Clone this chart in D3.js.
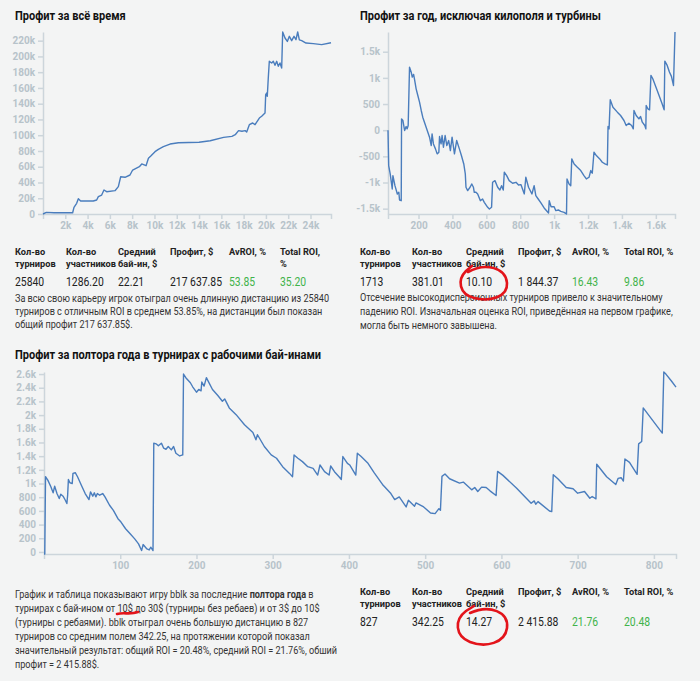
<!DOCTYPE html>
<html>
<head>
  <meta charset="utf-8">
  <title>Профит bblk</title>
  <script src="https://cdn.jsdelivr.net/npm/d3@7"></script>
  <style>
  * { margin: 0; padding: 0; }
  body { background: #f3f4f4; }
  svg { display: block; font-family: Roboto, "Noto Sans", sans-serif; }
  .axis path, .axis line { stroke: #ccd5db; stroke-width: 1.5; }
  .axis text { fill: #b7c3ca; font-size: 10px; font-weight: bold; font-family: Roboto, sans-serif; }
  .title { font-size: 12px; font-weight: bold; fill: #111; }
  .head { font-size: 9.8px; font-weight: bold; fill: #222; }
  .val { font-size: 12px; fill: #222; }
  .val.green { fill: #3fb34a; }
  .body { font-size: 10px; fill: #333; white-space: pre; }
  </style>
</head>
<body>
<script>
  var w = 700, h = 681;

  // profit over the whole career: [tournament #, profit $]
  var allTimeProfit = [
    [0, 0], [300, 2000], [1000, 1500], [1525, 1600], [2660, 1600], [2780, 8500], [3020, 13600],
    [3170, 19400], [3380, 16500], [4510, 16500], [4815, 17800], [4965, 22000], [5265, 24100],
    [5470, 30500], [5710, 28300], [6460, 29600], [6760, 34700], [6970, 47300], [7360, 46600],
    [7805, 49500], [8045, 55800], [8345, 58000], [8645, 60000], [8860, 63500], [9245, 61300],
    [9460, 70700], [9670, 73600], [10050, 79100], [10350, 82100], [10800, 85400], [11400, 88800],
    [12150, 90500], [14000, 91000], [15000, 93000], [16200, 97300], [16950, 98500], [17250, 100600],
    [17545, 105800], [17845, 105000], [18141, 105800], [18276, 104100], [18514, 113400],
    [18814, 115500], [19025, 113400], [19412, 121800], [19620, 124000], [19920, 128200],
    [19980, 151400], [20070, 153600], [20123, 149400], [20213, 172600], [20305, 193800],
    [20518, 191700], [20663, 193800], [20815, 188700], [20966, 193800], [21113, 187500],
    [21264, 191700], [21415, 185300], [21505, 231000], [21713, 223400], [21922, 219000],
    [22102, 225500], [22311, 220000], [22521, 225500], [22700, 221200], [22852, 231000],
    [23000, 221000], [23211, 220000], [23597, 217000], [24253, 216200], [25003, 215000],
    [25840, 217400]
  ];

  // profit for the year without kilofields and turbos
  var yearProfit = [
    [20, 0], [24, -677], [33, -836], [45, -1123], [49, -868], [55, -964], [61, -1060], [75, -1219],
    [84, -1187], [88, -1334], [98, -1347], [100, 217], [108, 185], [118, -6], [127, 70], [133, 25],
    [139, 89], [147, 1206], [157, 1110], [163, 1015], [171, 1066], [176, 983], [186, 791], [196, 664],
    [206, 536], [216, 377], [225, 249], [235, 153], [245, 57], [255, -38], [265, -134], [275, -294],
    [280, -70], [288, -262], [300, -357], [310, -453], [320, -421], [324, -121], [333, -262],
    [339, -102], [347, -325], [357, -102], [367, -294], [378, -198], [388, -389], [398, -134],
    [412, -453], [425, -198], [441, -357], [453, -485], [467, -645], [476, -836], [480, -1091],
    [490, -1155], [504, -1091], [514, -1028], [524, -1091], [529, -1187], [539, -1187], [549, -1219],
    [565, -1347], [578, -1315], [588, -1379], [608, -1474], [618, -1506], [631, -1474], [637, -996],
    [651, -964], [667, -1091], [680, -1143], [690, -1060], [700, -1143], [706, -804], [720, -868],
    [735, -964], [755, -1015], [775, -996], [790, -1047], [804, -1040], [824, -1219], [833, -900],
    [849, -1091], [869, -1219], [882, -1060], [892, -1251], [906, -1315], [922, -1391], [941, -1487],
    [967, -1583], [971, -1347], [982, -1462], [1000, -1462], [1010, -1538], [1025, -1525],
    [1039, -1551], [1059, -1570], [1073, -1602], [1076, -932], [1088, -1028], [1098, -1060],
    [1104, -549], [1118, -645], [1137, -709], [1157, -772], [1176, -868], [1190, -932], [1206, -900],
    [1216, -772], [1225, -823], [1235, -421], [1249, -485], [1269, -549], [1284, -613], [1300, -645],
    [1314, -664], [1318, 70], [1324, 25], [1331, 581], [1347, 440], [1373, 345], [1392, 281],
    [1412, 185], [1425, 89], [1441, 134], [1457, 89], [1467, 25], [1471, 377], [1484, 281],
    [1500, 217], [1510, 262], [1520, 153], [1535, 89], [1541, 25], [1543, 472], [1553, 409],
    [1563, 389], [1571, 1047], [1582, 983], [1608, 760], [1637, 504], [1649, 389], [1653, 1321],
    [1667, 1238], [1680, 1111], [1692, 1028], [1704, 855], [1713, 1877]
  ];

  // profit for 1.5 years in working buy-ins
  var workingProfit = [
    [0, -30], [1, -30], [2, 1099], [5, 1050], [9, 952], [12, 864], [14, 962], [17, 854], [20, 780],
    [22, 844], [25, 815], [28, 756], [30, 707], [31, 829], [32, 1060], [34, 1011], [37, 1001],
    [38, 1148], [41, 1158], [44, 1099], [49, 976], [54, 854], [59, 765], [61, 878], [64, 815],
    [66, 864], [68, 805], [70, 854], [73, 829], [77, 854], [80, 805], [86, 682], [91, 608],
    [97, 486], [101, 437], [107, 339], [113, 265], [119, 191], [124, 118], [128, 20], [130, 108],
    [135, 44], [138, 29], [140, 69], [143, 20], [144, 1590], [147, 1580], [150, 1551], [154, 1590],
    [157, 1516], [160, 1501], [163, 1541], [167, 1492], [170, 1541], [173, 1443], [178, 1403],
    [182, 1418], [183, 2600], [186, 2547], [192, 2473], [195, 2414], [200, 2335], [203, 2375],
    [206, 2355], [207, 2483], [210, 2424], [213, 2547], [216, 2483], [221, 2375], [228, 2287],
    [234, 2203], [237, 2237], [243, 2105], [252, 2007], [263, 1860], [274, 1747], [278, 1639],
    [280, 1713], [289, 1541], [298, 1418], [305, 1369], [313, 1246], [322, 1148], [326, 1099],
    [328, 1418], [333, 1369], [339, 1320], [346, 1246], [353, 1222], [359, 1124], [362, 1271],
    [368, 1173], [374, 1124], [376, 1256], [381, 1173], [387, 1099], [390, 1060], [392, 1394],
    [398, 1295], [401, 1271], [409, 1124], [411, 1443], [416, 1394], [425, 1295], [433, 1158],
    [444, 987], [455, 854], [460, 765], [466, 805], [475, 658], [478, 756], [486, 668], [488, 717],
    [498, 658], [507, 570], [513, 560], [518, 633], [520, 608], [522, 1104], [526, 1139],
    [532, 1070], [545, 1006], [550, 1021], [561, 908], [565, 942], [569, 883], [574, 947],
    [580, 942], [585, 893], [593, 825], [595, 1178], [602, 1119], [620, 932], [639, 712],
    [643, 746], [645, 697], [648, 736], [663, 599], [666, 589], [668, 1129], [674, 1070],
    [685, 942], [694, 923], [700, 859], [709, 883], [716, 785], [719, 810], [724, 776], [725, 1281],
    [738, 1099], [750, 986], [753, 1075], [757, 1085], [760, 1036], [762, 1359], [768, 1310],
    [778, 1134], [780, 1580], [784, 1614], [786, 2105], [811, 1737], [813, 2630], [816, 2596],
    [823, 2498], [829, 2409]
  ];

  var allTimeXTicks = [2000, 4000, 6000, 8000, 10000, 12000, 14000, 16000, 18000, 20000, 22000, 24000];
  var allTimeYTicks = [0, 20000, 40000, 60000, 80000, 100000, 120000, 140000, 160000, 180000, 200000, 220000];
  var yearXTicks = [200, 400, 600, 800, 1000, 1200, 1400, 1600];
  var yearYTicks = [-1500, -1000, -500, 0, 500, 1000, 1500];
  var workingXTicks = [100, 200, 300, 400, 500, 600, 700, 800];
  var workingYTicks = [0, 200, 400, 600, 800, 1000, 1200, 1400, 1600, 1800, 2000, 2200, 2400, 2600];

  // tables
  var headers = [["Кол-во", "турниров"], ["Кол-во", "участников"], ["Средний", "бай-ин, $"],
                 ["Профит, $"], ["AvROI, %"], ["Total ROI, %"]];
  var headersNarrow = [["Кол-во", "турниров"], ["Кол-во", "участников"], ["Средний", "бай-ин, $"],
                       ["Профит, $"], ["AvROI, %"], ["Total ROI,", "%"]];
  var allTimeStats = ["25840", "1286.20", "22.21", "217 637.85", "53.85", "35.20"];
  var yearStats = ["1713", "381.01", "10.10", "1 844.37", "16.43", "9.86"];
  var workingStats = ["827", "342.25", "14.27", "2 415.88", "21.76", "20.48"];

  var allTimeText = [
    "За всю свою карьеру игрок отыграл очень длинную дистанцию из 25840",
    "турниров с отличным ROI в среднем 53.85%, на дистанции был показан",
    "общий профит 217 637.85$."
  ];
  var yearText = [
    "Отсечение высокодисперсионных турниров привело к значительному",
    "падению ROI. Изначальная оценка ROI, приведённая на первом графике,",
    "могла быть немного завышена."
  ];
  var workingText = [
    [["График и таблица показывают игру bblk за последние ", false], ["полтора года", true], [" в", false]],
    [["турнирах с бай-ином от 10$ до 30$ (турниры без ребаев) и от 3$ до 10$", false]],
    [["(турниры с ребаями). bblk отыграл очень большую дистанцию в 827", false]],
    [["турниров со средним полем 342.25, на протяжении которой показал", false]],
    [["значительный результат: общий ROI = 20.48%, средний ROI = 21.76%, обший", false]],
    [["профит = 2 415.88$.", false]]
  ];

  var svg = d3.select("body").append("svg").attr("width", w).attr("height", h);

  var fmt = function(d) { return d3.format("~s")(d).replace("\u2212", "-"); };

  function drawChart(data, title, titleX, titleY, xr, yr, xDomain, xTicks, yTicks) {
    svg.append("text").attr("class", "title").attr("x", titleX).attr("y", titleY).text(title);

    var x = d3.scaleLinear().domain(xDomain).range(xr);
    var y = d3.scaleLinear().domain(d3.extent(data, function(d) { return d[1]; })).range(yr);

    svg.append("g")
      .attr("class", "axis")
      .attr("transform", "translate(0," + yr[0] + ")")
      .call(d3.axisBottom(x).tickValues(xTicks).tickFormat(fmt).tickSize(5).tickSizeOuter(5));

    svg.append("g")
      .attr("class", "axis")
      .attr("transform", "translate(" + xr[0] + ",0)")
      .call(d3.axisLeft(y).tickValues(yTicks).tickFormat(fmt).tickSize(5).tickSizeOuter(0));

    var line = d3.line()
      .x(function(d) { return x(d[0]); })
      .y(function(d) { return y(d[1]); });

    svg.append("path")
      .datum(data)
      .attr("fill", "none")
      .attr("stroke", "#4a7dbd")
      .attr("stroke-width", 1.4)
      .attr("stroke-linejoin", "round")
      .attr("d", line);
  }

  drawChart(allTimeProfit, "Профит за всё время", 15, 20, [43, 331], [214, 32],
            [0, 25840], allTimeXTicks, allTimeYTicks);
  drawChart(yearProfit, "Профит за год, исключая килополя и турбины", 360, 20, [388, 675], [214, 32],
            [20, 1713], yearXTicks, yearYTicks);
  drawChart(workingProfit, "Профит за полтора года в турнирах с рабочими бай-инами", 15, 359, [44, 676], [554, 372],
            [0, 829], workingXTicks, workingYTicks);

  // stats tables
  function drawTable(cols, head, vals, y0) {
    var g = svg.append("g");
    head.forEach(function(lines, i) {
      lines.forEach(function(t, j) {
        g.append("text").attr("class", "head").attr("x", cols[i]).attr("y", y0 + j * 12).text(t);
      });
      g.append("text")
        .attr("class", i >= 4 ? "val green" : "val")
        .attr("x", cols[i]).attr("y", y0 + 30.5)
        .text(vals[i]);
    });
  }

  drawTable([15, 66, 118, 170, 229, 280], headersNarrow, allTimeStats, 255);
  drawTable([360, 412, 466, 518, 572, 624], headers, yearStats, 255);
  drawTable([360, 412, 466, 518, 572, 624], headers, workingStats, 595);

  function drawText(lines, x, y0, lh) {
    lines.forEach(function(t, i) {
      svg.append("text").attr("class", "body").attr("x", x).attr("y", y0 + i * lh).text(t);
    });
  }
  drawText(allTimeText, 15, 301.5, 13.3);
  drawText(yearText, 360, 300.5, 14.3);

  // the page font is narrower than anything installed: squeeze each text class
  // so that a sample string gets the width it has in the picture
  function factor(cls, sample, target) {
    var probe = svg.append("text").attr("class", cls).text(sample);
    var k = target / probe.node().getComputedTextLength();
    probe.remove();
    return k;
  }
  function squeeze(sel, k) {
    sel.each(function() {
      var len = this.getComputedTextLength();
      d3.select(this).attr("textLength", len * k).attr("lengthAdjust", "spacingAndGlyphs");
    });
  }
  squeeze(svg.selectAll("text.title"), factor("title", "Профит за полтора года в турнирах с рабочими бай-инами", 306));
  var bodyK = factor("body", "За всю свою карьеру игрок отыграл очень длинную дистанцию из 25840", 314);
  squeeze(svg.selectAll("text.body"), bodyK);
  squeeze(svg.selectAll("text.head"), factor("head", "участников", 50));
  squeeze(svg.selectAll("text.val"), factor("val", "217 637.85", 52));

  // bottom paragraph, pieces laid out one after another (bold part in the middle)
  workingText.forEach(function(parts, i) {
    var xPos = 15;
    parts.forEach(function(p) {
      var t = svg.append("text").attr("class", "body")
        .attr("x", xPos).attr("y", 597.5 + i * 14)
        .attr("font-weight", p[1] ? "bold" : null)
        .attr("fill", p[1] ? "#111" : null)
        .text(p[0]);
      var len = t.node().getComputedTextLength() * bodyK;
      t.attr("textLength", len).attr("lengthAdjust", "spacingAndGlyphs");
      xPos += len;
    });
  });

  // hand-drawn red marks
  var red = svg.append("g").attr("fill", "none").attr("stroke", "#e3141b").attr("stroke-width", 2.6)
    .attr("stroke-linecap", "round");
  red.append("path").attr("d", "M468,272 C486,262 506,268 507,283 C508,297 490,302 474,298 C459,294 457,280 466,271 L472,266");
  red.append("path").attr("d", "M470,613 C490,604 509,612 507,628 C505,643 486,648 470,642 C455,636 454,620 466,611 L474,606");
  red.append("path").attr("d", "M117,614 C124,612 130,615 138,612");
</script>
</body>
</html>
